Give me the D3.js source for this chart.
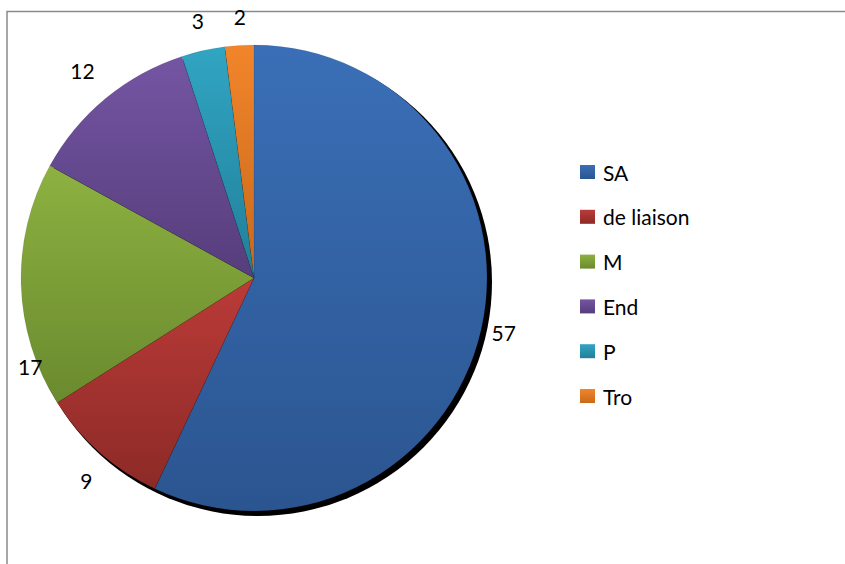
<!DOCTYPE html>
<html><head><meta charset="utf-8">
<script src="https://cdn.jsdelivr.net/npm/d3@7"></script>
<style>html,body{margin:0;padding:0;background:#fff;}svg{display:block;}</style>
</head><body>
<script>
const categories = ["SA", "de liaison", "M", "End", "P", "Tro"];
const values = [57, 9, 17, 12, 3, 2];
const colorsTop = ["#3a6fb7", "#bb3b38", "#8db141", "#7455a3", "#31a5c3", "#f2852b"];
const colorsBottom = ["#2b5590", "#8c2a27", "#6a8a2e", "#563d7b", "#217f99", "#c8691b"];

const W = 845, H = 564;
const svg = d3.select("body").append("svg").attr("width", W).attr("height", H);
const font = "Lato, 'Open Sans', sans-serif";

// frame
svg.append("rect").attr("x", 7).attr("y", 11.5).attr("width", 900).attr("height", 700)
  .attr("fill", "none").attr("stroke", "#8a8a8a").attr("stroke-width", 1.5);

const cx = 254, cy = 278, R = 233;
const defs = svg.append("defs");
categories.forEach((c, i) => {
  const g = defs.append("linearGradient").attr("id", "g" + i)
    .attr("x1", 0).attr("y1", 0).attr("x2", 0).attr("y2", 1);
  g.append("stop").attr("offset", "0%").attr("stop-color", colorsTop[i]);
  g.append("stop").attr("offset", "100%").attr("stop-color", colorsBottom[i]);
});

const pie = d3.pie().sort(null).value(d => d)(values);
const arc = d3.arc().innerRadius(0).outerRadius(R);

// shadow
svg.append("circle").attr("cx", cx + 4).attr("cy", cy + 4).attr("r", R + 1).attr("fill", "#000");

const gp = svg.append("g").attr("transform", `translate(${cx},${cy})`);
gp.selectAll("path").data(pie).enter().append("path")
  .attr("d", arc).attr("fill", (d, i) => `url(#g${i})`)
  .attr("stroke", "rgba(0,0,0,0.15)").attr("stroke-width", 0.5);

// labels
const labelArc = d3.arc().innerRadius(258).outerRadius(258);
const adjust = [[-2, -2], [3, 9], [34, 80], [-7, -9], [0, -6], [2, -4]];
gp.selectAll("text").data(pie).enter().append("text")
  .attr("x", (d, i) => labelArc.centroid(d)[0] + adjust[i][0])
  .attr("y", (d, i) => labelArc.centroid(d)[1] + adjust[i][1])
  .attr("text-anchor", "middle").attr("dominant-baseline", "central")
  .attr("font-family", font).attr("font-size", 21).attr("fill", "#000")
  .text(d => d.data);

// legend
const ly = d3.scalePoint().domain(categories).range([172, 396]);
const lg = svg.append("g");
categories.forEach((c, i) => {
  lg.append("rect").attr("x", 580).attr("y", ly(c) - 7).attr("width", 15).attr("height", 14)
    .attr("fill", `url(#g${i})`);
  lg.append("text").attr("x", 603).attr("y", ly(c)).attr("dominant-baseline", "central")
    .attr("font-family", font).attr("font-size", 21).attr("fill", "#000").text(c);
});
</script>
</body></html>
